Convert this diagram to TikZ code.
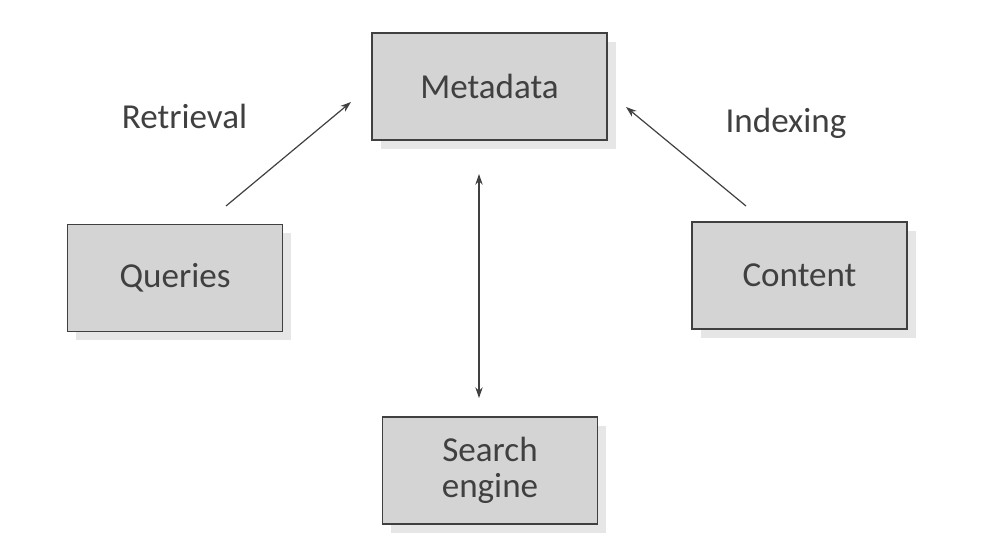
\documentclass[tikz,border=0pt]{standalone}
\usepackage{fontspec}
\setmainfont{Carlito}
\usetikzlibrary{arrows.meta,shadows}
\definecolor{txt}{HTML}{404040}
\definecolor{boxfill}{HTML}{D4D4D4}
\definecolor{shade}{HTML}{E6E6E6}
\tikzset{
  blk/.style={draw=txt, line width=1.1pt, fill=boxfill, text=txt,
    minimum width=161.5pt, minimum height=80pt, inner sep=0pt, align=center,
    font=\fontsize{26.3}{26.5}\selectfont,
    drop shadow={shadow xshift=6.5pt, shadow yshift=-6.5pt, fill=shade, opacity=1}},
  lbl/.style={text=txt, font=\fontsize{26.3}{31}\selectfont, inner sep=0pt},
  conn/.style={draw=txt, line width=0.9pt, -{Stealth[length=8pt,width=5.5pt,inset=2.5pt]}},
  conn2/.style={draw=txt, line width=0.9pt, {Stealth[length=8pt,width=5.5pt,inset=2.5pt]}-{Stealth[length=8pt,width=5.5pt,inset=2.5pt]}}
}
\begin{document}
\begin{tikzpicture}[x=0.75pt,y=-0.75pt]
\useasboundingbox (0,0) rectangle (992,560);
\node[blk, minimum width=176.5pt] (meta) at (489.5,86.5) {Metadata};
\node[blk] (queries) at (175,278) {Queries};
\node[blk] (content) at (799.5,275.5) {Content};
\node[blk] (search) at (490,470.5) {Search\\engine};
\node[lbl] (retr) at (184.5,116) {Retrieval};
\node[lbl] (idx) at (786,123) {Indexing};
\coordinate (r1) at (226,206);
\coordinate (r2) at (351,102);
\coordinate (i1) at (746,206);
\coordinate (i2) at (626,107);
\coordinate (v1) at (479,174);
\coordinate (v2) at (479,398);
\draw[conn] (r1) -- (r2);
\draw[conn] (i1) -- (i2);
\draw[conn2] (v1) -- (v2);
\end{tikzpicture}
\end{document}
